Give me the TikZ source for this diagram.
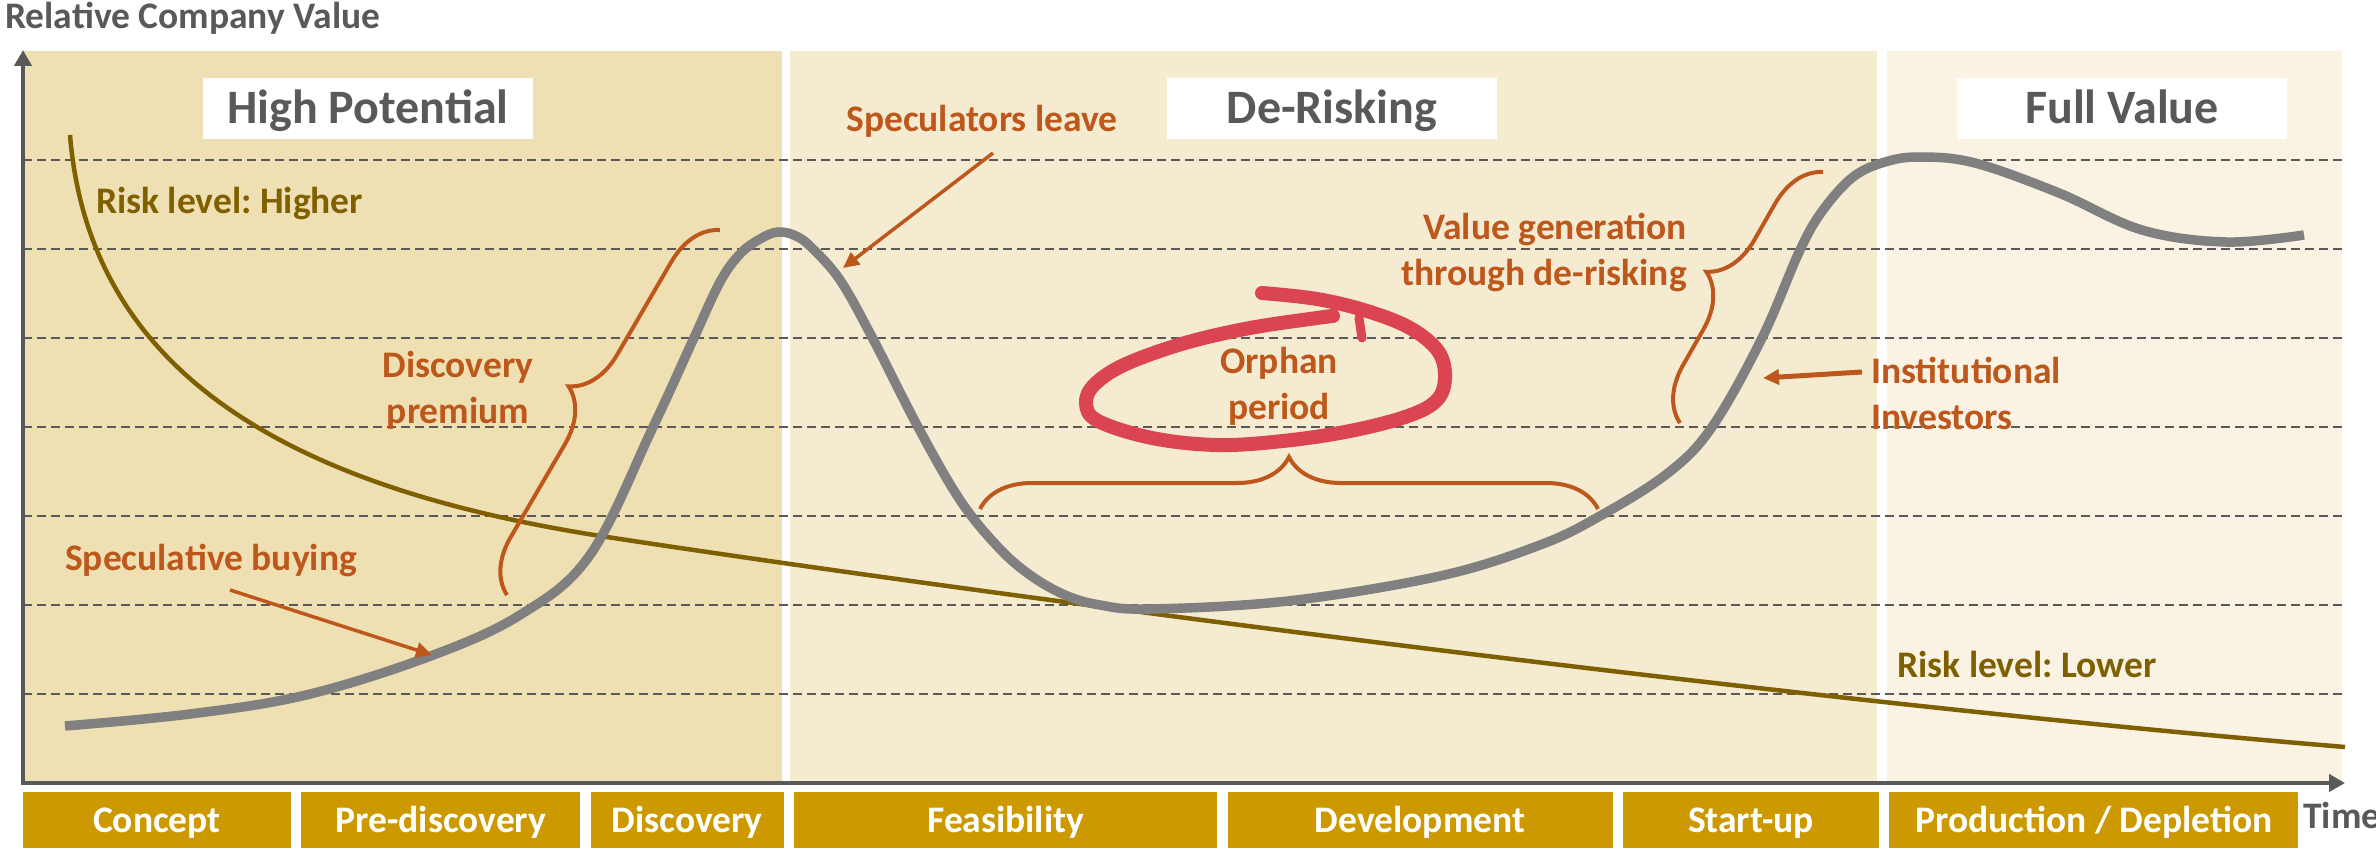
\documentclass[tikz,border=0pt]{standalone}
\usepackage{fontspec}
\setmainfont{Carlito}
\usepackage{tikz}
\usetikzlibrary{arrows.meta, positioning, decorations.pathreplacing}

\definecolor{panelA}{HTML}{EFE0B3}
\definecolor{panelB}{HTML}{F5EBD1}
\definecolor{panelC}{HTML}{FAF3E3}
\definecolor{phasegold}{HTML}{CC9900}
\definecolor{axisgray}{HTML}{595959}
\definecolor{curvegray}{HTML}{808080}
\definecolor{labelbrown}{HTML}{BE571C}
\definecolor{riskolive}{HTML}{7F6000}
\definecolor{circlered}{HTML}{DB4451}
\frenchspacing

\begin{document}
\begin{tikzpicture}[
    x=1pt, y=-1pt,
    every node/.style={inner sep=0pt, font=\bfseries\fontsize{37.5}{46}\selectfont},
    titlebox/.style={fill=white, text=axisgray, minimum width=330pt, minimum height=61pt,
      font=\bfseries\fontsize{48}{58}\selectfont, text height=31pt, text depth=0pt},
    catbox/.style={fill=phasegold, text=white, minimum height=56pt, text height=24pt, text depth=0pt},
    callout/.style={text=labelbrown, align=center},
    risktext/.style={text=riskolive, anchor=base west},
    axistext/.style={text=axisgray, anchor=base west},
    gridline/.style={axisgray, line width=2.5pt, dash pattern=on 9pt off 5pt},
    axis/.style={axisgray, line width=4pt, {Triangle[length=16pt,width=17pt]}-{Triangle[length=16pt,width=17pt]}},
    pointer/.style={labelbrown, line width=3.5pt, -{Triangle[length=16pt,width=15pt]}},
    pbrace/.style={labelbrown, line width=4pt, decorate, decoration={brace, amplitude=52pt}},
    valuecurve/.style={curvegray, line width=9.5pt},
    riskcurve/.style={riskolive, line width=4.5pt}
  ]
  \useasboundingbox (0,0) rectangle (2376,853);

  % Phases
  \fill[panelA] (23,51) rectangle (782,783);
  \fill[panelB] (790,51) rectangle (1877,783);
  \fill[panelC] (1887,51) rectangle (2342,783);

  \draw[gridline] (23,160) -- (2342,160);
  \draw[gridline] (23,249) -- (2342,249);
  \draw[gridline] (23,338) -- (2342,338);
  \draw[gridline] (23,427) -- (2342,427);
  \draw[gridline] (23,516) -- (2342,516);
  \draw[gridline] (23,605) -- (2342,605);
  \draw[gridline] (23,694) -- (2342,694);

  \node[titlebox] (highpot) at (368,108.5) {High Potential};
  \node[titlebox] (derisk) at (1332,108.5) {De-Risking};
  \node[titlebox] (fullval) at (2122,108.5) {Full Value};

  % Axes
  \coordinate (origin) at (23,783);
  \coordinate (ytip) at (23,50);
  \coordinate (xtip) at (2345,783);
  \draw[axis] (xtip) -- (origin) -- (ytip);
  \node[axistext] (ylabel) at (5,29) {Relative Company Value};
  \node[axistext] (xlabel) at (2303,828) {Time};

  % Stages
  \node[catbox, minimum width=268pt] (concept) at (157,820) {Concept};
  \node[catbox, minimum width=279pt, right=10pt of concept] (prediscovery) {Pre-discovery};
  \node[catbox, minimum width=193pt, right=10pt of prediscovery] (discovery) {Discovery};
  \node[catbox, minimum width=423pt, right=10pt of discovery] (feasibility) {Feasibility};
  \node[catbox, minimum width=385pt, right=10pt of feasibility] (development) {Development};
  \node[catbox, minimum width=256pt, right=10pt of development] (startup) {Start-up};
  \node[catbox, minimum width=409pt, right=10pt of startup] (production) {Production / Depletion};

  % Risk
  \draw[riskcurve] (70,135) .. controls (90,380) and (300,490) .. (607,537)
    .. controls (1000,597) and (1800,702) .. (2345,747);
  \node[risktext] (riskhigh) at (96,213) {Risk level: Higher};
  \node[risktext] (risklow) at (1897,677) {Risk level: Lower};

  % Braces
  \coordinate (discA) at (507,595);
  \coordinate (discB) at (720,230);
  \coordinate (orphA) at (980,509);
  \coordinate (orphB) at (1598,509);
  \coordinate (valA) at (1680,423);
  \coordinate (valB) at (1823,172);
  \draw[pbrace] (discA) -- (discB);
  \draw[pbrace] (orphA) -- (orphB);
  \draw[pbrace] (valA) -- (valB);

  % Value
  \draw[valuecurve] plot[smooth, tension=0.6] coordinates {(65,726) (190,714) (306,695) (428,657)
    (520,615) (590,555) (653,427) (693,340) (720,282) (740,254)
    (760,239) (778,232) (796,236) (812,248) (840,280) (872,337) (918,427) (960,500) (998,547)
    (1030,575) (1065,595) (1100,605) (1150,609) (1288,601) (1440,576) (1540,545) (1600,516)
    (1668,473) (1712,427) (1762,338) (1800,250) (1823,210) (1853,177) (1885,162) (1920,157)
    (1975,163) (2059,193) (2142,230) (2226,242) (2304,235)};

  % Orphan circle
  \draw[circlered, line width=14pt, line cap=round, line join=round] plot[smooth, tension=0.6]
    coordinates {(1262,293) (1317,299) (1367,311) (1410,328) (1438,351) (1445,377) (1437,400)
    (1408,416) (1350,431) (1283,441) (1217,445) (1152,438) (1098,421) (1086,403) (1095,384)
    (1126,364) (1185,343) (1250,328) (1317,318) (1333,316)};
  \draw[circlered, line width=9pt, line cap=round] (1359,318) -- (1362,338);

  % Labels
  \node[callout, anchor=base] (specleave) at (982,132) {Speculators leave};
  \node[callout, anchor=base west] (specbuy) at (65,570) {Speculative buying};
  \node[callout] (discprem) at (458,390) {Discovery\\premium};
  \node[callout] (orphan) at (1279,386) {Orphan\\period};
  \node[callout, align=right, anchor=east] (valgen) at (1687,252) {Value generation\\through de-risking};
  \node[callout, align=left, anchor=west] (instinv) at (1871,393) {Institutional\\Investors};

  \coordinate (sltail) at (993,153);
  \coordinate (slhead) at (843,268);
  \coordinate (sbtail) at (230,590);
  \coordinate (sbhead) at (432,655);
  \coordinate (iitail) at (1862,372);
  \coordinate (iihead) at (1763,378);
  \draw[pointer] (sltail) -- (slhead);
  \draw[pointer] (sbtail) -- (sbhead);
  \draw[pointer, line width=5pt] (iitail) -- (iihead);

\end{tikzpicture}
\end{document}
